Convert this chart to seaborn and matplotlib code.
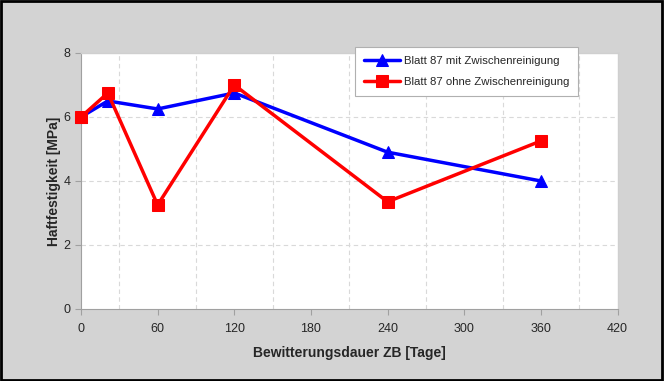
import matplotlib
matplotlib.use("Agg")
import matplotlib.pyplot as plt
import seaborn as sns
import pandas as pd
from matplotlib.ticker import MultipleLocator

days = [0, 21, 60, 120, 240, 360]
mit = [6.0, 6.5, 6.25, 6.75, 4.9, 4.0]
ohne = [6.0, 6.75, 3.25, 7.0, 3.35, 5.25]
label_mit = "Blatt 87 mit Zwischenreinigung"
label_ohne = "Blatt 87 ohne Zwischenreinigung"

sns.set_style("white")
plt.rcParams["font.family"] = ["Liberation Sans", "DejaVu Sans"]

bg = "#d3d3d3"
fig = plt.figure(figsize=(6.64, 3.81), dpi=100, facecolor=bg)
ax = fig.add_axes([0.122, 0.189, 0.808, 0.672])
ax.set_facecolor("white")

df = pd.DataFrame({"x": days + days,
                   "y": mit + ohne,
                   "s": [label_mit] * len(days) + [label_ohne] * len(days)})

sns.lineplot(data=df[df.s == label_mit], x="x", y="y", ax=ax, color="#0000ff",
             linewidth=2.5, marker="^", markersize=8, markeredgecolor="#0000ff",
             label=label_mit, clip_on=False, zorder=3)
sns.lineplot(data=df[df.s == label_ohne], x="x", y="y", ax=ax, color="#ff0000",
             linewidth=2.5, marker="s", markersize=8, markeredgecolor="#ff0000",
             label=label_ohne, clip_on=False, zorder=4)

ax.set_xlim(0, 420)
ax.set_ylim(0, 8)
ax.xaxis.set_major_locator(MultipleLocator(60))
ax.xaxis.set_minor_locator(MultipleLocator(30))
ax.yaxis.set_major_locator(MultipleLocator(2))
ax.grid(True, which="major", axis="y", color="#d9d9d9", linestyle=(0, (4, 3)), linewidth=0.8)
ax.grid(True, which="minor", axis="x", color="#d9d9d9", linestyle=(0, (4, 3)), linewidth=0.8)
ax.set_axisbelow(True)
fig.canvas.draw()
for gl, t in zip(ax.yaxis.get_gridlines(), ax.get_yticks()):
    if t >= 8 or t <= 0:
        gl.set_visible(False)

for s in ["top", "right"]:
    ax.spines[s].set_color("#cfcfcf")
    ax.spines[s].set_linewidth(1.0)
for s in ["left", "bottom"]:
    ax.spines[s].set_color("#a0a0a0")
    ax.spines[s].set_linewidth(0.8)
ax.tick_params(axis="both", which="major", length=4, color="#a0a0a0", labelsize=9, bottom=True, left=True)
ax.tick_params(axis="x", which="minor", length=0)
ax.tick_params(axis="x", pad=6)

ax.set_xlabel("Bewitterungsdauer ZB [Tage]", fontsize=10, fontweight="bold", labelpad=8)
ax.set_ylabel("Haftfestigkeit [MPa]", fontsize=10, fontweight="bold", labelpad=2)

leg = ax.legend(loc="upper left", bbox_to_anchor=(0.51, 1.025), borderaxespad=0,
                frameon=True, fancybox=False,
                fontsize=8.2, handlelength=3.2, labelspacing=1.0, borderpad=0.8, handletextpad=0.3,
                framealpha=1, edgecolor="#b0b0b0")
leg.get_frame().set_linewidth(0.8)

fig.patches.append(plt.Rectangle((0.002, 0.003), 0.995, 0.994, transform=fig.transFigure,
                                 fill=False, edgecolor="black", linewidth=2))

fig.savefig("out.png", dpi=100, facecolor=bg)
